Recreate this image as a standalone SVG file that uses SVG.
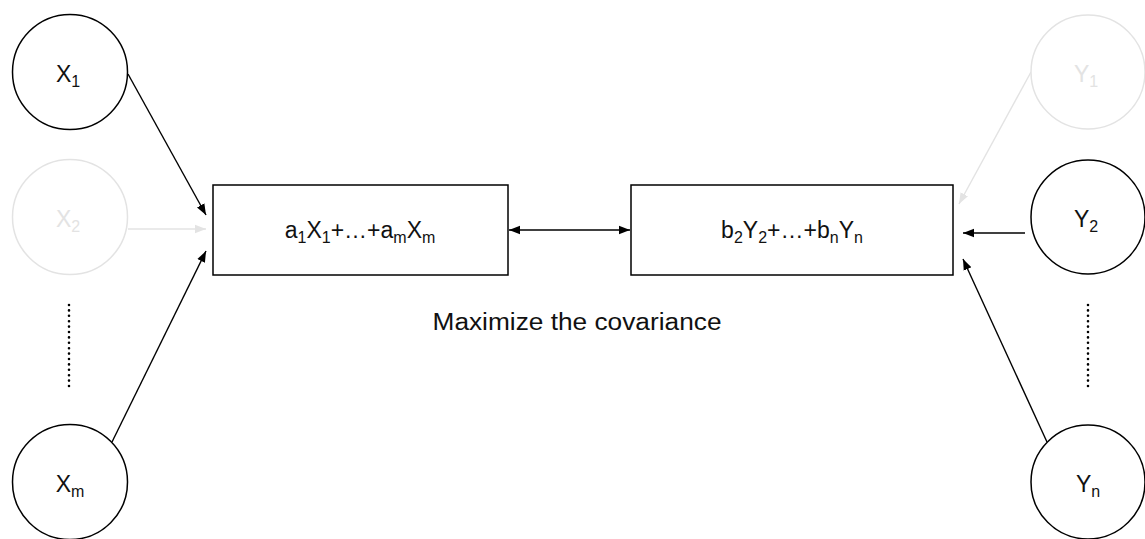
<svg xmlns="http://www.w3.org/2000/svg" width="1145" height="539" viewBox="0 0 1145 539">
<style>
.c{fill:#fff;stroke:#000;stroke-width:1.5}
.cl{fill:#fff;stroke:#e3e3e3;stroke-width:1.5}
.b{fill:#fff;stroke:#000;stroke-width:1.5}
.t{font-family:"Liberation Sans",Arial,sans-serif;font-size:23px;fill:#111}
.tl{fill:#e3e3e3}
.e{stroke:#000;stroke-width:1.4;fill:none}
.el{stroke:#e3e3e3;stroke-width:1.4;fill:none}
.d{stroke:#000;stroke-width:2.6;stroke-linecap:round;stroke-dasharray:0 5.4;fill:none}
</style>
<defs>
<marker id="ah" markerUnits="userSpaceOnUse" markerWidth="12" markerHeight="10" refX="11" refY="5" orient="auto-start-reverse"><path d="M0,0.8 L11,5 L0,9.2 Z" fill="#000"/></marker>
<marker id="ahl" markerUnits="userSpaceOnUse" markerWidth="12" markerHeight="10" refX="11" refY="5" orient="auto"><path d="M0,0.8 L11,5 L0,9.2 Z" fill="#e3e3e3"/></marker>
</defs>
<g id="connectors">
<line class="e" x1="128" y1="74" x2="206" y2="215" marker-end="url(#ah)"/>
<line class="el" x1="128" y1="229" x2="206" y2="229" marker-end="url(#ahl)"/>
<line class="e" x1="112" y1="442" x2="206" y2="251" marker-end="url(#ah)"/>
<line class="e" x1="509" y1="230" x2="630" y2="230" marker-start="url(#ah)" marker-end="url(#ah)"/>
<line class="el" x1="1031" y1="72" x2="959" y2="204" marker-end="url(#ahl)"/>
<line class="e" x1="1025" y1="233" x2="963" y2="233" marker-end="url(#ah)"/>
<line class="e" x1="1047" y1="442" x2="963" y2="259" marker-end="url(#ah)"/>
</g>
<g id="X1"><circle class="c" cx="70" cy="72" r="57.5"/><text class="t" x="68" y="82" text-anchor="middle">X<tspan font-size="16" dy="5">1</tspan></text></g>
<g id="X2"><circle class="cl" cx="70" cy="217" r="57.5"/><text class="t tl" x="68" y="227" text-anchor="middle">X<tspan font-size="16" dy="5">2</tspan></text></g>
<g id="Xdots"><line class="d" x1="69" y1="305" x2="69" y2="387"/></g>
<g id="Xm"><circle class="c" cx="70" cy="482" r="57.5"/><text class="t" x="70" y="492" text-anchor="middle">X<tspan font-size="16" dy="5">m</tspan></text></g>
<g id="Y1"><circle class="cl" cx="1088" cy="72" r="57"/><text class="t tl" x="1086" y="82" text-anchor="middle">Y<tspan font-size="16" dy="5">1</tspan></text></g>
<g id="Y2"><circle class="c" cx="1088" cy="217" r="57"/><text class="t" x="1086" y="227" text-anchor="middle">Y<tspan font-size="16" dy="5">2</tspan></text></g>
<g id="Ydots"><line class="d" x1="1088" y1="305" x2="1088" y2="387"/></g>
<g id="Yn"><circle class="c" cx="1088" cy="482" r="57"/><text class="t" x="1088" y="492" text-anchor="middle">Y<tspan font-size="16" dy="5">n</tspan></text></g>
<g id="boxA"><rect class="b" x="213" y="185" width="295" height="90"/><text class="t" x="360" y="238" text-anchor="middle">a<tspan font-size="16" dy="5">1</tspan><tspan dy="-5">X</tspan><tspan font-size="16" dy="5">1</tspan><tspan dy="-5">+…+a</tspan><tspan font-size="16" dy="5">m</tspan><tspan dy="-5">X</tspan><tspan font-size="16" dy="5">m</tspan></text></g>
<g id="boxB"><rect class="b" x="631" y="185" width="322" height="90"/><text class="t" x="792" y="238" text-anchor="middle">b<tspan font-size="16" dy="5">2</tspan><tspan dy="-5">Y</tspan><tspan font-size="16" dy="5">2</tspan><tspan dy="-5">+…+b</tspan><tspan font-size="16" dy="5">n</tspan><tspan dy="-5">Y</tspan><tspan font-size="16" dy="5">n</tspan></text></g>
<g id="label"><text class="t" x="577" y="330" text-anchor="middle" font-size="24" textLength="289" lengthAdjust="spacingAndGlyphs">Maximize the covariance</text></g>
</svg>
